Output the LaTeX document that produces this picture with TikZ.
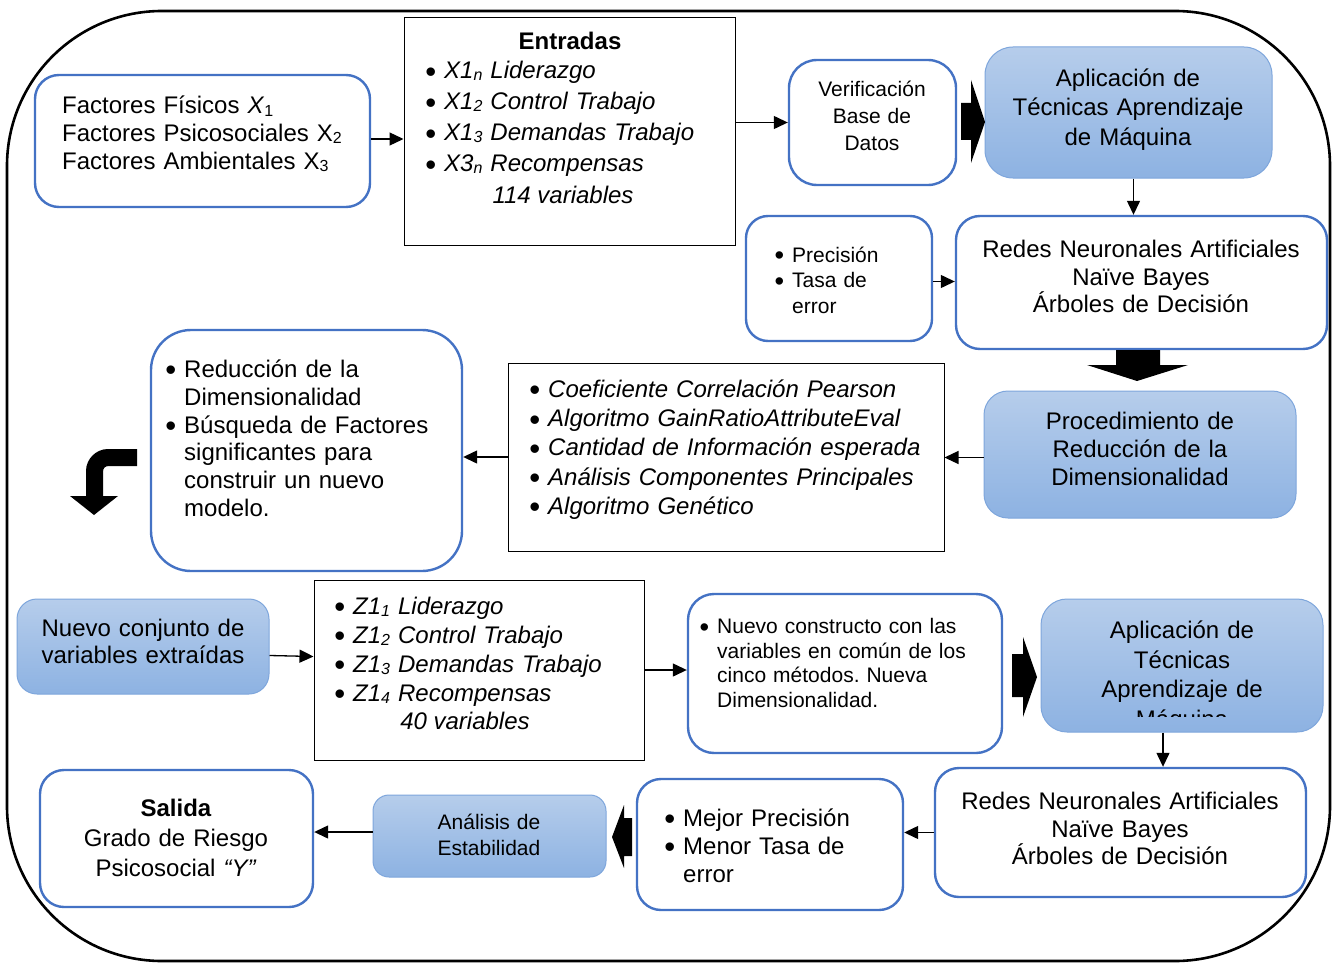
\documentclass[tikz,border=0pt]{standalone}
\usepackage{fontspec}
\setmainfont{Liberation Sans}
\usetikzlibrary{fit,arrows.meta}
\definecolor{bord}{HTML}{4472C4}
\definecolor{ftop}{HTML}{B6CDEB}
\definecolor{fbot}{HTML}{8DB2E2}
\definecolor{fbord}{HTML}{7EA6DC}
\tikzset{
  bluebox/.style={draw=bord, line width=2.4pt, rounded corners=24pt, inner sep=0pt, fill=white},
  fillbox/.style={draw=fbord, line width=1pt, rounded corners=24pt, inner sep=0pt, top color=ftop, bottom color=fbot},
  plainbox/.style={draw=black, line width=1pt, inner sep=0pt, fill=white},
  bigtxt/.style={inner sep=0pt, font=\fontsize{24}{28}\selectfont},
  smalltxt/.style={inner sep=0pt, font=\fontsize{21}{26}\selectfont},
  lefttxt/.style={anchor=base west, text width=#1, align=left},
  centtxt/.style={anchor=base, text width=#1, align=center},
  conn/.style={-{Triangle[length=14pt,width=13pt]}, line width=1.3pt},
  blockarrow/.style={fill=black, draw=none}
}
\newcommand{\bul}{\leavevmode\llap{\raisebox{-0.14em}{\scalebox{1.3}{\upshape\textbullet}}\hspace{8pt}}}
\newcommand{\sub}[1]{\raisebox{-2pt}{\fontsize{16}{16}\selectfont #1}}
\frenchspacing
\begin{document}
\begin{tikzpicture}[x=1pt,y=-1pt]
\useasboundingbox (0,0) rectangle (1336,963);
\fill[white] (0,0) rectangle (1336,963);
\draw[line width=2.6pt, rounded corners=155pt] (7,11) rectangle (1330,961);

% boxes
\node[bluebox, fit={(35,75) (370,207)}] (fac) {};
\node[plainbox, fit={(404,18) (735,245)}] (ent) {};
\node[bluebox, rounded corners=28pt, fit={(789,60) (956,185)}] (ver) {};
\node[fillbox, rounded corners=28pt, fit={(985,47) (1272,178)}] (apl1) {};
\node[bluebox, fit={(956,216) (1327,349)}] (red1) {};
\node[bluebox, rounded corners=22pt, fit={(746,216) (932,341)}] (pre) {};
\node[fillbox, fit={(984,391) (1296,518)}] (proc) {};
\node[plainbox, fit={(508,363) (944,551)}] (coef) {};
\node[bluebox, rounded corners=40pt, fit={(151,330) (462,571)}] (redu) {};
\node[fillbox, rounded corners=20pt, fit={(17,599) (269,694)}] (nuevo) {};
\node[plainbox, fit={(314,580) (644,760)}] (zbox) {};
\node[bluebox, rounded corners=26pt, fit={(688,594) (1002,753)}] (cons) {};
\node[fillbox, rounded corners=26pt, fit={(1041,599) (1323,732)}] (apl2) {};
\node[bluebox, fit={(935,768) (1306,897)}] (red2) {};
\node[bluebox, fit={(637,779) (903,910)}] (mej) {};
\node[fillbox, rounded corners=16pt, fit={(373,795) (606,877)}] (ana) {};
\node[bluebox, fit={(40,770) (313,907)}] (sal) {};

% texts
\node[bigtxt, lefttxt=300pt] (t-fac) at (62,114)
  {Factores Físicos \textit{X}\sub{1}\\Factores Psicosociales X\sub{2}\\Factores Ambientales X\sub{3}};
\node[bigtxt, anchor=base, font=\fontsize{24}{28}\selectfont\bfseries] (t-ent) at (570,50) {Entradas};
\node[bigtxt, lefttxt=300pt, font=\fontsize{24}{31}\selectfont\itshape] (t-entl) at (444,79)
  {\bul X1\sub{n} Liderazgo\\\bul X1\sub{2} Control Trabajo\\\bul X1\sub{3} Demandas Trabajo\\\bul X3\sub{n} Recompensas};
\node[bigtxt, anchor=base, font=\fontsize{24}{28}\selectfont\itshape] (t-114) at (563,203) {114 variables};
\node[smalltxt, centtxt=160pt, font=\fontsize{21}{27}\selectfont] (t-ver) at (872,97) {Verificación\\Base de\\Datos};
\node[bigtxt, centtxt=280pt, font=\fontsize{24}{29.5}\selectfont] (t-apl1) at (1128,86.5) {Aplicación de\\Técnicas Aprendizaje\\de Máquina};
\node[bigtxt, centtxt=360pt, font=\fontsize{24}{27.5}\selectfont] (t-red1) at (1141,257.5) {Redes Neuronales Artificiales\\Naïve Bayes\\Árboles de Decisión};
\node[smalltxt, lefttxt=140pt, font=\fontsize{21}{25.5}\selectfont] (t-pre) at (792,262) {\bul Precisión\\\bul Tasa de\\error};
\node[bigtxt, centtxt=300pt] (t-proc) at (1140,429.5) {Procedimiento de\\Reducción de la\\Dimensionalidad};
\node[bigtxt, lefttxt=390pt, font=\fontsize{24}{29.2}\selectfont\itshape] (t-coef) at (548,397.5)
  {\bul Coeficiente Correlación Pearson\\\bul Algoritmo GainRatioAttributeEval\\\bul Cantidad de Información esperada\\\bul Análisis Componentes Principales\\\bul Algoritmo Genético};
\node[bigtxt, lefttxt=270pt, font=\fontsize{24}{27.8}\selectfont] (t-redu) at (184,377.5)
  {\bul Reducción de la\\Dimensionalidad\\\bul Búsqueda de Factores\\significantes para\\construir un nuevo\\modelo.};
\node[bigtxt, centtxt=245pt, font=\fontsize{24}{27}\selectfont] (t-nuevo) at (143,636.5) {Nuevo conjunto de\\variables extraídas};
\node[bigtxt, lefttxt=280pt, font=\fontsize{24}{29}\selectfont\itshape] (t-z) at (353,614.5)
  {\bul Z1\sub{1} Liderazgo\\\bul Z1\sub{2} Control Trabajo\\\bul Z1\sub{3} Demandas Trabajo\\\bul Z1\sub{4} Recompensas};
\node[bigtxt, anchor=base, font=\fontsize{24}{28}\selectfont\itshape] (t-40) at (465,729.5) {40 variables};
\node[smalltxt, lefttxt=280pt, font=\fontsize{21}{24.7}\selectfont] (t-cons) at (717,633.5)
  {\bul Nuevo constructo con las\\variables en común de los\\cinco métodos. Nueva\\Dimensionalidad.};
\begin{scope}
  \clip (1041,599) rectangle (1323,716);
  \node[bigtxt, centtxt=270pt, font=\fontsize{24}{29.5}\selectfont] (t-apl2) at (1182,638.5) {Aplicación de\\Técnicas\\Aprendizaje de\\Máquina};
\end{scope}
\node[bigtxt, centtxt=360pt, font=\fontsize{24}{27.5}\selectfont] (t-red2) at (1120,809.5) {Redes Neuronales Artificiales\\Naïve Bayes\\Árboles de Decisión};
\node[bigtxt, lefttxt=210pt] (t-mej) at (683,826.5) {\bul Mejor Precisión\\\bul Menor Tasa de\\error};
\node[smalltxt, centtxt=220pt] (t-ana) at (489,829.5) {Análisis de\\Estabilidad};
\node[bigtxt, centtxt=260pt, font=\fontsize{24}{30}\selectfont] (t-sal) at (176,816.5) {\textbf{Salida}\\Grado de Riesgo\\Psicosocial \textit{“Y”}};

% thin connectors
\draw[conn] ([yshift=2pt]fac.east) -- ([yshift=2pt]fac.east -| ent.west);
\draw[conn] (ent.east |- ver.west) -- (ver.west);
\draw[conn] ([xshift=5pt]apl1.south) -- ([xshift=5pt]apl1.south |- red1.north);
\draw[conn] ([yshift=-3pt]pre.east) -- ([yshift=-3pt]pre.east -| red1.west);
\draw[conn] ([yshift=-3pt]proc.west) -- ([yshift=-3pt]proc.west -| coef.east);
\draw[conn] (coef.west) -- (coef.west -| redu.east);
\draw[conn] ([yshift=-9pt]nuevo.east) -- ([yshift=-10pt]nuevo.east -| zbox.west);
\draw[conn] (zbox.east) -- (zbox.east -| cons.west);
\draw[conn] ([xshift=-19pt]apl2.south) -- ([xshift=-19pt]apl2.south |- red2.north);
\draw[conn] (red2.west) -- (red2.west -| mej.east);
\draw[conn] ([yshift=4pt]ana.west) -- ([yshift=4pt]ana.west -| sal.east);

% block arrows
\fill[blockarrow] (961,103) -- (971,103) -- (971,80) -- (985,122) -- (971,163) -- (971,140) -- (961,140) -- cycle;
\fill[blockarrow] (1116,350) -- (1160,350) -- (1160,365) -- (1188,365) -- (1137,381) -- (1087,365) -- (1116,365) -- cycle;
\fill[blockarrow] (137,449) -- (108,449) .. controls (96,449) and (86,459) .. (86,471) -- (86,496) -- (70,496) -- (94,515) -- (118,496) -- (103,496) -- (103,472) .. controls (103,468) and (105,466) .. (109,466) -- (137,466) -- cycle;
\fill[blockarrow] (1012,654) -- (1023,654) -- (1023,637) -- (1037,677) -- (1023,717) -- (1023,697) -- (1012,697) -- cycle;
\fill[blockarrow] (632,818) -- (624,818) -- (624,805) -- (612,837) -- (624,868) -- (624,856) -- (632,856) -- cycle;
\end{tikzpicture}
\end{document}
